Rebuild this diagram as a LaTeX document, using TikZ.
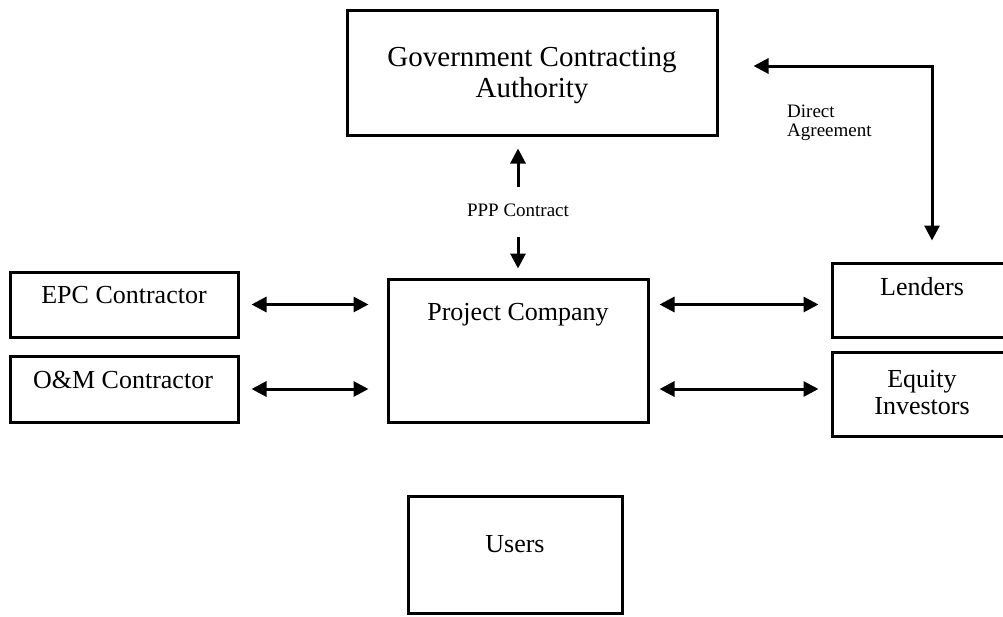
\documentclass[tikz,border=0pt]{standalone}
\usepackage{fontspec}
\setmainfont{Liberation Serif}
\usetikzlibrary{arrows.meta,calc}

\begin{document}
\begin{tikzpicture}[x=1pt,y=-1pt,
  box/.style={draw,line width=3pt,inner sep=0pt},
  lbl/.style={font=\fontsize{26}{27}\selectfont,inner sep=0pt,align=center},
  note/.style={font=\fontsize{19}{19}\selectfont,inner sep=0pt,align=left},
  tip/.style={line width=3pt,-{Triangle[length=15pt,width=15pt]}},
  both/.style={line width=3pt,
    {Triangle[length=15pt,width=15pt]}-{Triangle[length=15pt,width=15pt]}}]
  \useasboundingbox (0,0) rectangle (1003,616);
  % boxes
  \node[box,minimum width=370pt,minimum height=125pt](gov)at(532,72.5){};
  \node[box,minimum width=260pt,minimum height=143pt](pc)at(518,350.5){};
  \node[box,minimum width=228pt,minimum height=65pt](epc)at(124,304.5){};
  \node[box,minimum width=228pt,minimum height=66pt](om)at(124,389){};
  \node[box,minimum width=180pt,minimum height=74pt](lend)at(922,300){};
  \node[box,minimum width=180pt,minimum height=84pt](eq)at(922,394){};
  \node[box,minimum width=214pt,minimum height=117pt](users)at(515,554.5){};
  % texts
  \node[lbl,font=\fontsize{29}{31}\selectfont,anchor=north](govtxt)at(532,47)
  {Government Contracting\\Authority};
  \node[lbl,anchor=base](pctxt)at(518,320){Project Company};
  \node[lbl,anchor=base](epctxt)at(124,303){EPC Contractor};
  \node[lbl,anchor=base](omtxt)at(123,388){O\&M Contractor};
  \node[lbl,anchor=base](lendtxt)at(922,295){Lenders};
  \node[lbl,anchor=north](eqtxt)at(922,370){Equity\\Investors};
  \node[lbl,anchor=base](userstxt)at(515,552){Users};
  \node[note,anchor=base](ppp)at(518,216){PPP Contract};
  \node[note,anchor=north west](da)at(787,105){Direct\\Agreement};
  % arrows
  \draw[tip]($(ppp.north)+(0,-16)$)--($(ppp.north|-gov.south)+(0,12)$);
  \draw[tip]($(ppp.south)+(0,21)$)--($(ppp.south|-pc.north)+(0,-9)$);
  \draw[both]($(epc.east)+(12,0)$)--($(epc.east-|pc.west)+(-18,0)$);
  \draw[both]($(om.east)+(12,0)$)--($(om.east-|pc.west)+(-18,0)$);
  \draw[both]($(epc.east-|pc.east)+(10,0)$)--($(epc.east-|lend.west)+(-12,0)$);
  \draw[both]($(om.east-|pc.east)+(10,0)$)--($(om.east-|eq.west)+(-12,0)$);
  \draw[both]($(gov.east)+(35,-6.5)$)-|($(lend.north)+(10,-21)$);
\end{tikzpicture}
\end{document}
